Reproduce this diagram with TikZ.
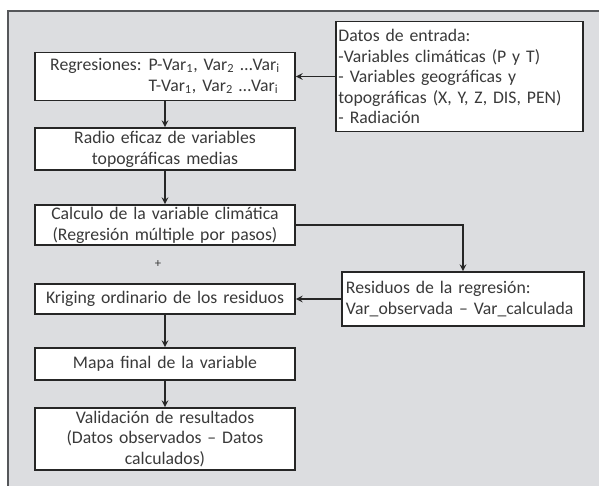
\documentclass[tikz,border=0pt]{standalone}
\usepackage{fontspec}
\setmainfont[WordSpace=0.45]{Carlito}
\usepackage{xcolor}
\usepackage{tikz}
\usetikzlibrary{arrows, positioning}
\definecolor{panelgray}{HTML}{DCDDE0}
\definecolor{framegray}{HTML}{55575A}
\definecolor{textgray}{HTML}{3A3A3A}
\tikzstyle{frame} = [draw=framegray, line width=1.4pt, fill=panelgray]
\tikzstyle{stage} = [rectangle, minimum width=6.5cm, text width=6.4cm, align=center, inner sep=1pt, draw=black!85, line width=1.3pt, fill=white, text=textgray, font=\fontsize{12.6}{14.8}\selectfont]
\tikzstyle{info} = [rectangle, inner sep=1pt, draw=black!85, line width=1.3pt, fill=white, text=textgray, align=left, font=\fontsize{12.6}{14.6}\selectfont]
\tikzstyle{arrow} = [line width=1.1pt, draw=black!85, ->, >=stealth]

\begin{document}
\begin{tikzpicture}[x=0.025cm, y=-0.025cm]
        % Page and grey panel
        \clip (0,0) rectangle (599,486);
        \fill [white] (0,0) rectangle (599,486);
        \draw [frame] (8,11) rectangle (650,530);

        % Main column
        \node (reg) [stage, minimum height=1.2cm] at (165,76.5) {%
            \begin{tabular}{@{}l@{\hspace{5pt}}l@{}}
            Regresiones: & P-Var\textsubscript{1}, Var\textsubscript{2} \dots Var\textsubscript{i}\\
                         & T-Var\textsubscript{1}, Var\textsubscript{2} \dots Var\textsubscript{i}
            \end{tabular}};
        \node (radio) [stage, minimum height=1.05cm] at (165,149) {Radio eficaz de variables\\topográficas medias};
        \node (calc) [stage, minimum height=1cm] at (165,225) {Calculo de la variable climática\\(Regresión múltiple por pasos)};
        \node (plus) [text=textgray, font=\small] at (158,264) {+};
        \node (krig) [stage, minimum height=0.75cm] at (165,299) {Kriging ordinario de los residuos};
        \node (mapa) [stage, minimum height=0.8cm] at (165,364) {Mapa final de la variable};
        \node (valid) [stage, minimum height=1.55cm] at (165,439) {Validación de resultados\\(Datos observados -- Datos\\calculados)};

        % Side boxes
        \node (datos) [info, minimum width=6.175cm, minimum height=2.75cm, text width=6.05cm] at (459.5,76.5) {Datos de entrada:\\-Variables climáticas (P y T)\\- Variables geográficas y\\topográficas (X, Y, Z, DIS, PEN)\\- Radiación};
        \node (resid) [info, minimum width=6.05cm, minimum height=1.35cm, text width=5.85cm] at (463,299) {Residuos de la regresión:\\Var\_observada -- Var\_calculada};

        % Arrows
        \draw [arrow] (datos) -- (reg);
        \draw [arrow] (reg) -- (radio);
        \draw [arrow] (radio) -- (calc);
        \draw [arrow] (calc) -| (resid);
        \draw [arrow] (resid) -- (krig);
        \draw [arrow] (krig) -- (mapa);
        \draw [arrow] (mapa) -- (valid);
    \end{tikzpicture}
\end{document}
